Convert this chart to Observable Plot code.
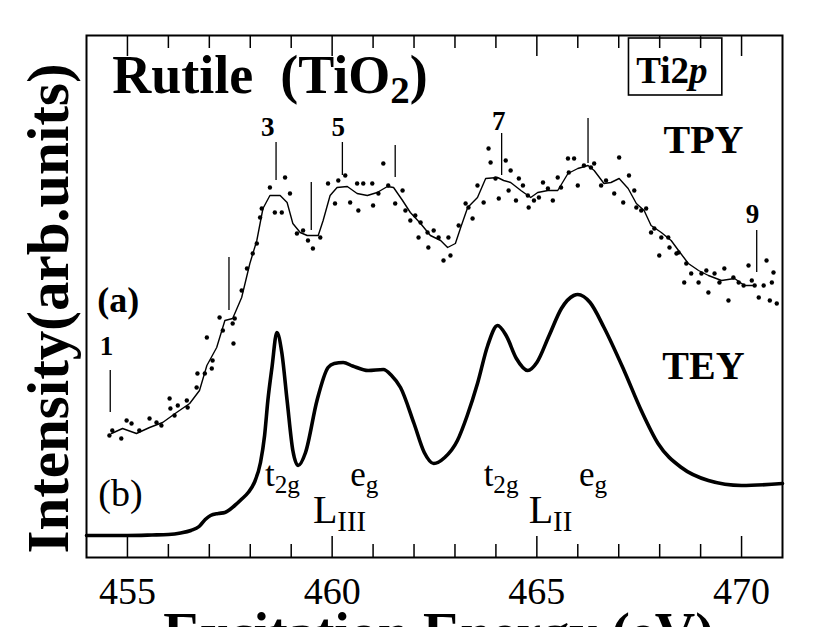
<!DOCTYPE html>
<html><head><meta charset="utf-8">
<script src="https://cdn.jsdelivr.net/npm/d3@7"></script>
<script src="https://cdn.jsdelivr.net/npm/@observablehq/plot@0.6"></script>
<style>
html,body{margin:0;padding:0;background:#fff;overflow:hidden;}
#chart svg{display:block;}
</style></head><body><div id="chart"></div>
<script>
// ---------- data (energy in eV, intensity in arb. units) ----------
const teyCurve = [
  [454.0,4.4],[455.0,4.4],[455.6,4.5],[456.0,4.6],[456.3,4.9],[456.55,5.4],[456.75,6.2],[456.9,7.6],
  [457.03,8.4],[457.22,8.8],[457.38,9.0],[457.62,10.4],[457.78,11.6],[457.95,13.0],[458.1,15.0],
  [458.25,19.0],[458.35,24.4],[458.43,31.4],[458.53,38.0],[458.65,45.0],[458.77,41.0],[458.9,31.4],
  [459.04,21.4],[459.17,18.4],[459.35,21.0],[459.63,31.4],[459.9,38.0],[460.05,38.8],[460.27,39.0],
  [460.5,38.3],[460.88,37.4],[461.25,37.6],[461.45,36.4],[461.67,34.0],[462.0,26.8],[462.25,21.0],
  [462.48,18.8],[462.75,20.0],[463.06,23.4],[463.3,28.4],[463.55,34.8],[463.8,42.4],[464.04,46.4],
  [464.25,44.4],[464.5,39.8],[464.78,37.4],[465.0,39.0],[465.3,44.4],[465.6,49.8],[465.9,52.4],
  [466.0,52.6],[466.3,51.0],[466.64,46.0],[467.13,37.4],[467.55,29.4],[467.96,22.8],[468.53,18.0],
  [469.19,15.4],[470.0,14.4],[471.0,14.8]
];
const tpySmooth = [
  [454.61,24.8],[454.88,25.8],[455.22,24.8],[455.54,26.0],[455.86,27.0],[456.20,29.0],[456.52,30.8],
  [456.76,33.4],[456.94,38.4],[457.18,42.0],[457.38,47.4],[457.57,47.8],[457.79,52.0],[457.99,58.8],
  [458.16,63.4],[458.31,69.8],[458.48,72.4],[458.73,72.4],[458.90,71.0],[459.04,66.8],[459.22,65.0],
  [459.39,64.4],[459.66,64.4],[459.78,67.4],[459.95,72.4],[460.12,74.0],[460.37,74.2],[460.61,72.8],
  [460.86,72.4],[461.10,73.0],[461.35,74.2],[461.50,74.0],[461.72,71.4],[461.91,69.0],[462.16,66.8],
  [462.40,64.4],[462.65,63.4],[462.82,62.0],[463.01,62.8],[463.14,66.0],[463.31,70.0],[463.55,72.0],
  [463.75,75.8],[464.04,76.0],[464.19,75.4],[464.36,75.0],[464.61,73.4],[464.85,72.0],[465.02,73.0],
  [465.27,73.4],[465.51,73.4],[465.76,76.8],[466.00,77.8],[466.25,78.4],[466.40,77.4],[466.64,74.8],
  [466.81,75.0],[467.01,75.8],[467.23,73.8],[467.43,70.8],[467.62,69.4],[467.79,66.4],[468.04,65.0],
  [468.28,63.4],[468.46,61.4],[468.70,58.8],[468.95,57.4],[469.19,56.4],[469.51,55.4],[469.83,55.8],
  [470.07,54.4],[470.32,54.4]
];
const tpyPoints = [
  [454.63,25.4],[454.56,24.4],[454.85,23.8],[454.98,27.4],[455.10,26.8],[455.29,25.4],[455.54,27.8],
  [455.71,27.0],[455.83,26.4],[456.03,31.8],[456.05,29.8],[456.15,28.4],[456.23,30.4],[456.45,31.4],
  [456.47,30.0],[456.69,34.0],[456.71,36.8],[456.89,36.8],[456.94,44.0],[457.06,37.8],[457.08,39.4],
  [457.25,48.0],[457.33,45.4],[457.57,46.8],[457.59,42.8],[457.62,47.8],[457.79,53.4],[457.92,57.8],
  [458.06,60.8],[458.16,62.8],[458.24,68.0],[458.28,69.8],[458.48,74.0],[458.60,69.0],[458.77,69.0],
  [458.85,76.0],[458.97,72.8],[459.14,64.8],[459.29,65.4],[459.41,63.4],[459.53,61.8],[459.71,64.0],
  [459.90,74.8],[460.07,70.8],[460.15,75.4],[460.32,76.4],[460.44,71.0],[460.61,74.8],[460.64,69.4],
  [460.76,74.8],[460.98,74.8],[461.00,70.4],[461.13,72.8],[461.25,78.8],[461.37,74.4],[461.54,70.8],
  [461.72,73.4],[461.79,69.4],[461.91,67.4],[462.03,68.4],[462.16,67.0],[462.11,64.0],[462.33,65.0],
  [462.35,62.0],[462.48,65.4],[462.60,64.0],[462.72,59.4],[462.89,60.4],[462.84,64.0],[463.09,66.4],
  [463.26,70.8],[463.33,70.0],[463.43,67.8],[463.55,74.4],[463.70,71.0],[463.82,81.8],[463.87,79.0],
  [463.99,75.8],[464.07,71.8],[464.24,79.4],[464.36,77.4],[464.31,73.4],[464.49,71.4],[464.56,75.8],
  [464.66,74.4],[464.78,72.4],[464.80,70.0],[464.93,71.4],[465.05,72.0],[465.15,75.0],[465.27,73.8],
  [465.39,71.4],[465.51,76.0],[465.59,74.0],[465.76,79.8],[465.91,79.8],[465.78,77.0],[466.00,74.4],
  [466.15,78.4],[466.32,78.0],[466.40,78.8],[466.57,74.4],[466.69,75.4],[466.89,72.8],[467.01,80.0],
  [467.11,71.0],[467.25,76.4],[467.38,73.4],[467.43,70.0],[467.55,69.4],[467.67,69.8],[467.79,65.0],
  [467.87,65.8],[467.99,60.4],[468.04,64.0],[468.21,64.0],[468.24,62.0],[468.41,60.8],[468.46,61.0],
  [468.60,55.0],[468.65,58.8],[468.77,56.8],[468.95,55.0],[469.02,56.8],[469.14,57.4],[469.19,53.0],
  [469.34,56.8],[469.46,55.0],[469.58,57.8],[469.68,51.4],[469.80,56.0],[469.93,55.0],[470.05,54.4],
  [470.17,58.4],[470.25,55.4],[470.32,54.4],[470.42,52.0],[470.54,54.4],[470.61,59.4],[470.69,51.4],
  [470.78,57.0],[470.74,55.0],[470.86,50.8]
];
// feature markers on the TPY spectrum: energy, top and bottom of the stroke
const markerEnergy = [454.58, 457.48, 458.63, 459.49, 460.25, 461.54, 464.14, 466.25, 470.37];
const markerTop    = [37.4, 60.0, 83.0, 75.0, 83.0, 82.4, 84.8, 87.8, 65.4];
const markerBottom = [29.0, 49.4, 75.4, 65.4, 76.4, 76.0, 76.4, 78.8, 57.0];
const markerNumbers = [
  {label: "1", E: 454.49, I: 42.3}, {label: "3", E: 458.43, I: 86.0}, {label: "5", E: 460.15, I: 86.0},
  {label: "7", E: 464.07, I: 87.2}, {label: "9", E: 470.27, I: 68.6}
];
const xMajorTicks = [455, 460, 465, 470];
const xMinorTicks = [456, 457, 458, 459, 461, 462, 463, 464, 466, 467, 468, 469];
const xDomain = [454, 471];
const yDomain = [0, 104.4];

// text annotations (anchored in data coordinates)
const titleText = [{text: "Rutile\u00a0 (TiO_{2})", E: 454.63, I: 93.0}];
const edgeText = [{text: "Ti2*{p}", E: 468.30, I: 95.0}];
const edgeBox = [{E1: 467.25, E2: 469.53, I1: 92.4, I2: 103.8}];
const seriesText = [{text: "TPY", E: 469.07, I: 81.0}, {text: "TEY", E: 469.07, I: 35.8}];
const panelA = [{text: "(a)", E: 454.26, I: 49.2}];
const panelB = [{text: "(b)", E: 454.29, I: 10.4}];
const bandText = [
  {text: "t_{2g}", E: 458.36, I: 14.4}, {text: "e_{g}", E: 460.44, I: 14.4},
  {text: "t_{2g}", E: 463.70, I: 14.4}, {text: "e_{g}", E: 466.03, I: 14.4}
];
const edgeLabels = [{text: "L_{III}", E: 459.53, I: 7.0}, {text: "L_{II}", E: 464.80, I: 7.0}];
const xTitle = "Excitation Energy (eV)";
const yTitle = "Intensity(arb.units)";

// ---------- chart ----------
const SERIF = "'Liberation Serif','Times New Roman',Times,serif";
const markers = markerEnergy.map((E, i) => ({E, top: markerTop[i], bottom: markerBottom[i]}));
const plotH = 627 - 35 - 70;

const chart = Plot.plot({
  width: 827, height: 627,
  marginLeft: 86, marginRight: 45, marginTop: 35, marginBottom: 70,
  style: {fontFamily: SERIF, background: "white", color: "black"},
  x: {domain: xDomain},
  y: {domain: yDomain, axis: null},
  marks: [
    Plot.axisX(xMajorTicks, {anchor: "bottom", tickSize: 0, tickPadding: 20, fontSize: 38, tickFormat: d => String(d), label: null}),
    Plot.ruleX(xMinorTicks, {x: d => d, insetTop: plotH - 13, strokeWidth: 1.5}),
    Plot.ruleX(xMinorTicks, {x: d => d, insetBottom: plotH - 13, strokeWidth: 1.5}),
    Plot.ruleX(xMajorTicks, {x: d => d, insetTop: plotH - 21, strokeWidth: 1.5}),
    Plot.ruleX(xMajorTicks, {x: d => d, insetBottom: plotH - 21, strokeWidth: 1.5}),
    Plot.frame({stroke: "black", strokeWidth: 2}),
    Plot.line(teyCurve, {curve: "monotone-x", stroke: "black", strokeWidth: 3.6}),
    Plot.line(tpySmooth, {stroke: "black", strokeWidth: 1.4}),
    Plot.dot(tpyPoints, {r: 2.2, fill: "black", stroke: null}),
    Plot.ruleX(markers, {x: "E", y1: "bottom", y2: "top", stroke: "black", strokeWidth: 1.3}),
    Plot.text(markerNumbers, {x: "E", y: "I", text: "label", fontSize: 27, fontWeight: "bold"}),
    Plot.text(titleText, {x: "E", y: "I", text: "text", textAnchor: "start", lineAnchor: "bottom", fontSize: 54, fontWeight: "bold"}),
    Plot.rect(edgeBox, {x1: "E1", x2: "E2", y1: "I1", y2: "I2", fill: "none", stroke: "black", strokeWidth: 1.6}),
    Plot.text(edgeText, {x: "E", y: "I", text: "text", lineAnchor: "bottom", fontSize: 37, fontWeight: "bold"}),
    Plot.text(seriesText, {x: "E", y: "I", text: "text", lineAnchor: "bottom", fontSize: 40, fontWeight: "bold"}),
    Plot.text(panelA, {x: "E", y: "I", text: "text", textAnchor: "start", lineAnchor: "bottom", fontSize: 36, fontWeight: "bold"}),
    Plot.text(panelB, {x: "E", y: "I", text: "text", textAnchor: "start", lineAnchor: "bottom", fontSize: 38}),
    Plot.text(bandText, {x: "E", y: "I", text: "text", textAnchor: "start", lineAnchor: "bottom", fontSize: 35}),
    Plot.text(edgeLabels, {x: "E", y: "I", text: "text", textAnchor: "start", lineAnchor: "bottom", fontSize: 40}),
    Plot.text([xTitle], {text: d => d, frameAnchor: "bottom", textAnchor: "middle", lineAnchor: "top", dx: 4, dy: 55, fontSize: 56, fontWeight: "bold"}),
    Plot.text([yTitle], {text: d => d, frameAnchor: "left", textAnchor: "middle", lineAnchor: "middle", rotate: -90, dx: -37, dy: 12, fontSize: 59, fontWeight: "bold"})
  ]
});
document.getElementById("chart").appendChild(chart);

// rich text: _{...} subscript, *{...} italic
d3.select(chart).selectAll("text").each(function () {
  const t = this.textContent;
  if (!/[_*]\{/.test(t)) return;
  const fs = parseFloat(getComputedStyle(this).fontSize);
  const parts = t.split(/([_*]\{[^}]*\})/).filter(s => s.length);
  this.textContent = "";
  let shift = 0;
  for (const p of parts) {
    const ts = document.createElementNS("http://www.w3.org/2000/svg", "tspan");
    if (p.startsWith("_{")) {
      ts.textContent = p.slice(2, -1);
      ts.setAttribute("font-size", fs * 0.72);
      const d = fs * 0.2;
      ts.setAttribute("dy", d - shift);
      shift = d;
    } else {
      ts.textContent = p.startsWith("*{") ? p.slice(2, -1) : p;
      if (p.startsWith("*{")) ts.setAttribute("font-style", "italic");
      if (shift) { ts.setAttribute("dy", -shift); shift = 0; }
    }
    this.appendChild(ts);
  }
});
</script></body></html>
